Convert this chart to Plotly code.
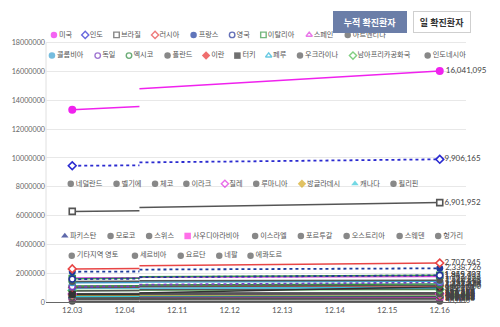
import plotly.graph_objects as go

# ---------------- data ----------------
dates = ["12.03", "12.04", "12.11", "12.12", "12.13", "12.14", "12.15", "12.16"]

countries = ["미국", "인도", "브라질", "러시아", "프랑스", "영국", "이탈리아", "스페인", "아르헨티나",
             "콜롬비아", "독일", "멕시코", "폴란드", "이란", "터키", "페루", "우크라이나", "남아프리카공화국", "인도네시아",
             "네덜란드", "벨기에", "체코", "이라크", "칠레", "루마니아", "방글라데시", "캐나다", "필리핀",
             "파키스탄", "모로코", "스위스", "사우디아라비아", "이스라엘", "포르투갈", "오스트리아", "스웨덴", "헝가리",
             "기타지역 영토", "세르비아", "요르단", "네팔", "에콰도르"]

# cumulative cases: first date, end of first segment, start of second segment, last date
cases_first = [13350000, 9460000, 6290000, 2300000, 2100000, 1590000, 1620000, 1660000, 1420000,
               1330000, 1070000, 1110000, 1030000, 1010000, 530000, 960000, 770000, 800000, 560000,
               540000, 580000, 530000, 560000, 552000, 500000, 470000, 390000, 432000,
               406000, 364000, 330000, 357000, 341000, 307000, 289000, 278000, 229000,
               50000, 240000, 230000, 239000, 194000]
cases_seg1_end = [13580000, 9490000, 6330000, 2330000, 2120000, 1620000, 1650000, 1680000, 1440000,
                  1350000, 1090000, 1120000, 1040000, 1020000, 540000, 965000, 790000, 805000, 570000,
                  550000, 585000, 540000, 562000, 555000, 510000, 475000, 400000, 435000,
                  410000, 370000, 336000, 357500, 343000, 311000, 294000, 283000, 235000,
                  51000, 245000, 235000, 241000, 195000]
cases_seg2_start = [14800000, 9690000, 6560000, 2520000, 2250000, 1720000, 1750000, 1720000, 1470000,
                    1390000, 1200000, 1180000, 1090000, 1070000, 620000, 975000, 850000, 830000, 600000,
                    590000, 595000, 565000, 570000, 565000, 540000, 485000, 430000, 442000,
                    425000, 385000, 360000, 358500, 352000, 333000, 310000, 310000, 258000,
                    53000, 270000, 255000, 246000, 199000]
cases_last = [16041095, 9906165, 6901952, 2707945, 2338726, 1849403, 1855737, 1762212, 1510203,
              1444646, 1351510, 1255974, 1147446, 1131077, 1055000, 984973, 919704, 873679, 636154,
              628577, 611422, 598429, 578310, 577725, 570499, 495841, 475214, 451839,
              446491, 402496, 394453, 360155, 364497, 362616, 323889, 341029, 283968,
              56000, 293961, 272283, 251184, 202356]

y_ticks = [0, 2000000, 4000000, 6000000, 8000000, 10000000, 12000000, 14000000, 16000000, 18000000]

legend_rows = [countries[0:9], countries[9:19], countries[19:28], countries[28:37], countries[37:42]]

# ---------------- styles ----------------
G = "#555555"
colors = ["#f022ee", "#2b2bd0", "#555555", "#e84545", "#1c3a9c", "#24359a", "#3a9a48", "#e040e0", G,
          "#3aa0d0", "#7a3fc0", "#2e8b3e", G, "#e83030", "#333333", "#2bb5d8", G, "#4cbb4c", G,
          G, G, G, G, "#e030e0", G, "#d4a820", "#38c8d8", G,
          "#1a2a88", G, G, "#ff30e0", G, G, G, G, G,
          G, G, G, G, G]
symbols = ["circle", "diamond-o", "square-o", "diamond-o", "circle", "circle-o", "square-o", "triangle-up-o", "circle",
           "circle", "circle-o", "circle-o", "circle", "diamond", "square", "triangle-up-o", "circle", "diamond-o", "circle",
           "circle", "circle", "circle", "circle", "diamond-o", "circle", "diamond", "triangle-up", "circle",
           "triangle-up", "circle", "circle", "square", "circle", "circle", "circle", "circle", "circle",
           "circle", "circle", "circle", "circle", "circle"]
dashes = {"인도": "dot", "프랑스": "dot", "영국": "dot", "독일": "dot"}

FONT = "Lato, 'Noto Sans CJK KR', sans-serif"
W, H = 500, 327
L, R, B = 42, 466, 306      # plot area (pixels)
T_PLOT = 28                 # top of drawing area (room for first legend row)
T_MAX = 43                  # pixel row of the top gridline (18,000,000)
BREAK_X = 1.28              # where the drawn line is interrupted

y_top = y_ticks[-1] * (B - T_PLOT) / (B - T_MAX)


def mstyle(i, size, lw):
    sym = symbols[i]
    base = sym[:-2] if sym.endswith("-o") else sym
    if sym.endswith("-o"):
        return dict(symbol=base, size=size - 1, color="white", line=dict(color=colors[i], width=lw))
    return dict(symbol=base, size=size, color=colors[i], line=dict(color=colors[i], width=0))


fig = go.Figure()
n = len(countries)
x_first = dates.index("12.03")
x_last = dates.index("12.16")

# lines (drawn bottom first so the first countries stay on top)
for i in reversed(range(n)):
    dash = dashes.get(countries[i], "solid")
    fig.add_trace(go.Scatter(
        x=[x_first, BREAK_X, BREAK_X, BREAK_X, x_last],
        y=[cases_first[i], cases_seg1_end[i], None, cases_seg2_start[i], cases_last[i]],
        mode="lines", connectgaps=False,
        line=dict(color=colors[i], width=1.8 if dash == "dot" else 1.5, dash=dash),
        showlegend=False, hoverinfo="skip"))

# end-point markers and value labels
for i in reversed(range(n)):
    fig.add_trace(go.Scatter(
        x=[x_first, x_last], y=[cases_first[i], cases_last[i]],
        mode="markers+text", text=["", f"{cases_last[i]:,}"],
        textposition="middle right",
        textfont=dict(family=FONT, size=8, color="#444"),
        marker=mstyle(i, 8 if i == 0 else 7, 1.6), cliponaxis=False,
        showlegend=False, hoverinfo="skip"))

# custom legend rows (drawn on a pixel overlay axis)
row_start_x = [50, 48, 67, 61, 68]
row_y = [35, 56, 186, 239, 259]
for r, row in enumerate(legend_rows):
    xs, ys = [], []
    x = row_start_x[r]
    for name in row:
        xs.append(x)
        ys.append(row_y[r])
        nch = len(name.replace(" ", ""))
        x += 17 + 7.3 * nch + (3 if " " in name else 0)
    idx = [countries.index(nm) for nm in row]
    st = [mstyle(i, 6.5, 1.4) for i in idx]
    fig.add_trace(go.Scatter(
        x=xs, y=ys, xaxis="x2", yaxis="y2",
        mode="markers+text", text=row, textposition="middle right",
        textfont=dict(family=FONT, size=7.2, color="#555"),
        marker=dict(symbol=[s["symbol"] for s in st], size=[s["size"] for s in st],
                    color=[s["color"] for s in st],
                    line=dict(color=[s["line"]["color"] for s in st],
                              width=[s["line"]["width"] for s in st])),
        cliponaxis=False, showlegend=False, hoverinfo="skip"))

pw, ph = R - L, B - T_PLOT


def px(xp):
    return (xp - L) / pw


def py(yp):
    return (B - yp) / ph


fig.add_annotation(x=px(406), y=py(11), xref="paper", yref="paper", showarrow=False,
                   text="<b>누적 확진환자</b>", width=72, height=20, borderpad=0,
                   bgcolor="#6b7ea8", bordercolor="#6b7ea8", borderwidth=1,
                   font=dict(family=FONT, size=9, color="white"))
fig.add_annotation(x=px(471), y=py(11), xref="paper", yref="paper", showarrow=False,
                   text="<b>일 확진환자</b>", width=56, height=20, borderpad=0,
                   bgcolor="white", bordercolor="#cfcfcf", borderwidth=1,
                   font=dict(family=FONT, size=9, color="#333"))

# left axis line only up to the top gridline
fig.add_shape(type="line", xref="paper", yref="y", x0=0, x1=0, y0=0, y1=y_ticks[-1],
              line=dict(color="#e0e0e0", width=1), layer="below")

fig.update_layout(
    width=W, height=H, margin=dict(l=L, r=W - R, t=T_PLOT, b=H - B),
    paper_bgcolor="white", plot_bgcolor="white", showlegend=False,
    hovermode=False,
    xaxis=dict(range=[-0.5, 7.5], tickvals=list(range(len(dates))), ticktext=dates,
               showgrid=False, zeroline=False, showline=True, linecolor="#666", linewidth=1,
               ticks="", tickfont=dict(family=FONT, size=8, color="#555"), fixedrange=True),
    yaxis=dict(range=[0, y_top], tickvals=y_ticks, tickformat="d",
               showgrid=True, gridcolor="#e8e8e8", gridwidth=1, zeroline=False,
               showline=False, ticks="",
               tickfont=dict(family=FONT, size=7.2, color="#666"), fixedrange=True),
    xaxis2=dict(overlaying="x", anchor="y2", range=[L, R], visible=False, fixedrange=True),
    yaxis2=dict(overlaying="y", anchor="x2", range=[B, T_PLOT], visible=False, fixedrange=True),
)

fig.write_html("out.html")
